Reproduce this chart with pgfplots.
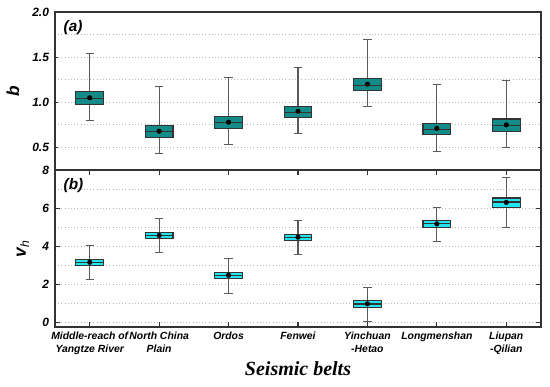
\documentclass[border=0pt]{standalone}
\usepackage{pgfplots}
\pgfplotsset{compat=1.18}
\usepgfplotslibrary{statistics}
\usepackage{fontspec}
\setmainfont{Liberation Sans}
\newfontfamily\serifbi{Liberation Serif}
\definecolor{tealbox}{HTML}{138B88}
\definecolor{cyanbox}{HTML}{22E4EE}
\definecolor{frame}{HTML}{333333}
\definecolor{whisk}{HTML}{5A5A5A}
\pgfplotsset{
  common/.style={
    scale only axis, width=364.5pt,
    xmin=0.5, xmax=7.5,
    axis line style={frame, line width=1.2pt},
    /pgf/number format/assume math mode=true,
    ticklabel style={font=\fontsize{9}{10}\selectfont\bfseries\itshape},
    y tick label style={xshift=-1pt},
    tick style={frame, line width=0.8pt},
    major tick length=2.5pt, minor tick length=0pt,
    tick align=inside,
    ymajorgrids, yminorgrids,
    major grid style={gray!55, dotted, line width=0.7pt},
    minor grid style={gray!55, dotted, line width=0.7pt},
    boxplot/draw direction=y,
    boxplot/box extend=0.4,
    boxplot/whisker extend=0.12,
    boxplot/every whisker/.style={draw=whisk, line width=0.8pt},
    boxplot/every median/.style={draw=black!80, line width=0.8pt},
    boxplot/every box/.style={draw=frame, line width=0.8pt},
  },
  bx/.style n args={6}{boxplot prepared={draw position=#1, lower whisker=#2, lower quartile=#3, median=#4, upper quartile=#5, upper whisker=#6}},
}
\begin{document}
\begin{tikzpicture}
\useasboundingbox (0,0) rectangle (412.5pt,-289.5pt);
% ---------- panel (a)
\begin{axis}[common,
  at={(41.25pt,-127.5pt)}, anchor=south west, height=118.5pt,
  ymin=0.25, ymax=2.0,
  ytick={0.5,1.0,1.5,2.0}, minor ytick={0.75,1.25,1.75},
  yticklabel style={/pgf/number format/.cd, fixed, fixed zerofill, precision=1},
  xtick=\empty,
  ylabel={\fontsize{13}{14}\selectfont\bfseries\itshape b},
  ylabel style={at={(axis description cs:-0.0864,0.5)}, anchor=center},
]
\addplot[bx={1}{0.80}{0.98}{1.045}{1.115}{1.54}, fill=tealbox] coordinates {};
\addplot[bx={2}{0.43}{0.61}{0.675}{0.74}{1.17}, fill=tealbox] coordinates {};
\addplot[bx={3}{0.53}{0.71}{0.78}{0.84}{1.27}, fill=tealbox] coordinates {};
\addplot[bx={4}{0.65}{0.83}{0.89}{0.955}{1.39}, fill=tealbox] coordinates {};
\addplot[bx={5}{0.95}{1.13}{1.19}{1.26}{1.70}, fill=tealbox] coordinates {};
\addplot[bx={6}{0.46}{0.64}{0.70}{0.77}{1.20}, fill=tealbox] coordinates {};
\addplot[bx={7}{0.50}{0.68}{0.745}{0.815}{1.245}, fill=tealbox] coordinates {};
\addplot[only marks, mark=*, mark size=1.7pt, black] coordinates {
  (1,1.05) (2,0.68) (3,0.78) (4,0.90) (5,1.20) (6,0.71) (7,0.75)};
\node[anchor=north west, font=\fontsize{11.5}{12}\selectfont\bfseries\itshape]
  at (rel axis cs:0,1) [xshift=3pt, yshift=-3pt] {(a)};
\end{axis}
% ---------- panel (b)
\begin{axis}[common,
  at={(41.25pt,-245.25pt)}, anchor=south west, height=117.75pt,
  ymin=-0.25, ymax=8,
  ytick={0,2,4,6,8}, minor ytick={1,3,5,7},
  xtick={1,2,3,4,5,6,7},
  xticklabels={{Middle-reach of\\Yangtze River},{North China\\Plain},Ordos,Fenwei,{Yinchuan\\-Hetao},Longmenshan,{Liupan\\-Qilian}},
  xticklabel style={align=center, font=\fontsize{7.8}{10}\selectfont\bfseries\itshape},
  xtick style={frame, line width=0.8pt},
  xtick align=inside, major tick length=3.5pt,
  ylabel={\fontsize{13}{14}\selectfont\bfseries\itshape v$_{\mathbf{\mathit{h}}}$},
  ylabel style={at={(axis description cs:-0.066,0.5)}, anchor=center},
  xlabel={\serifbi\fontsize{15}{16}\selectfont\bfseries\itshape Seismic belts},
  xlabel style={at={(axis description cs:0.5,0)}, anchor=base, yshift=-36pt},
]
\addplot[bx={1}{2.24}{3.00}{3.16}{3.32}{4.03}, fill=cyanbox] coordinates {};
\addplot[bx={2}{3.65}{4.40}{4.56}{4.74}{5.44}, fill=cyanbox] coordinates {};
\addplot[bx={3}{1.53}{2.30}{2.47}{2.63}{3.35}, fill=cyanbox] coordinates {};
\addplot[bx={4}{3.54}{4.30}{4.47}{4.63}{5.35}, fill=cyanbox] coordinates {};
\addplot[bx={5}{0.03}{0.79}{0.96}{1.12}{1.84}, fill=cyanbox] coordinates {};
\addplot[bx={6}{4.24}{5.00}{5.17}{5.33}{6.05}, fill=cyanbox] coordinates {};
\addplot[bx={7}{4.96}{6.05}{6.32}{6.53}{7.60}, fill=cyanbox] coordinates {};
\addplot[only marks, mark=*, mark size=1.7pt, black] coordinates {
  (1,3.15) (2,4.56) (3,2.47) (4,4.47) (5,0.97) (6,5.17) (7,6.30)};
\node[anchor=north west, font=\fontsize{11.5}{12}\selectfont\bfseries\itshape]
  at (rel axis cs:0,1) [xshift=3pt, yshift=-3pt] {(b)};
\end{axis}
\end{tikzpicture}
\end{document}
